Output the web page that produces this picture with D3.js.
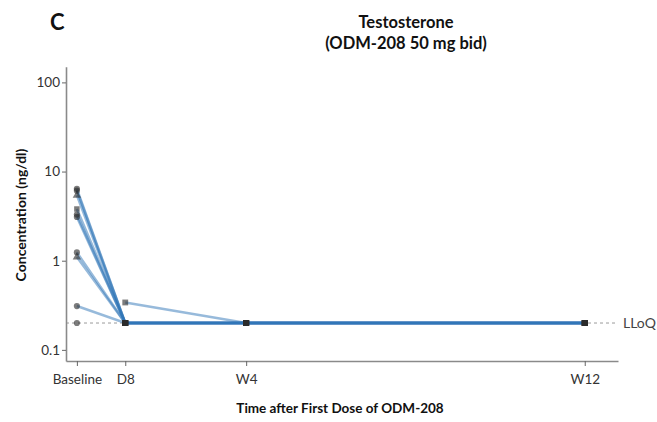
<!DOCTYPE html>
<html>
<head>
<meta charset="utf-8">
<script src="https://cdn.jsdelivr.net/npm/d3@7"></script>
<style>
  body { margin: 0; background: #fff; }
  text { font-family: Lato, "Open Sans", sans-serif; }
</style>
</head>
<body>
<div class="canvas"></div>
<script>
// visit labels and the study day each one sits at
var visits = ["Baseline", "D8", "W4", "W12"];
var visitDays = [0, 8, 28, 84];

// testosterone per subject (ng/dl), null = not measured
var subj01 = [6.4, 0.2, 0.2, 0.2];
var subj02 = [6.1, 0.2, 0.2, 0.2];
var subj03 = [5.4, 0.2, 0.2, 0.2];
var subj04 = [3.8, 0.2, 0.2, 0.2];
var subj05 = [3.3, 0.2, 0.2, 0.2];
var subj06 = [3.1, 0.2, 0.2, 0.2];
var subj07 = [1.24, 0.2, 0.2, 0.2];
var subj08 = [1.1, 0.2, 0.2, 0.2];
var subj09 = [0.31, 0.2, 0.2, 0.2];
var subj10 = [0.2, null, null, null];
var subj11 = [null, 0.34, 0.2, 0.2];
var subjects = [subj01, subj02, subj03, subj04, subj05, subj06, subj07, subj08, subj09, subj10, subj11];

var yTicks = [0.1, 1, 10, 100];
var lloq = 0.2;

// marker shape per subject (index into symbol list below)
var shapeIdx = [0, 0, 2, 1, 0, 0, 0, 2, 0, 0, 1];
var symbols = [d3.symbolCircle, d3.symbolSquare, d3.symbolTriangle];

var W = 657, H = 422;
const svg = d3.select(".canvas").append("svg")
            .attr("width", W)
            .attr("height", H);
svg.append("rect").attr("width", W).attr("height", H).attr("fill", "#fff");

var x = d3.scaleLinear().domain([-1.8, 89.5]).range([66, 618]);
var y = d3.scaleLog().domain([0.075, 150]).range([361, 66.7]);

// lloq dashed line
svg.append("line")
   .attr("x1", x(-1.8)).attr("x2", x(89.5))
   .attr("y1", y(lloq)).attr("y2", y(lloq))
   .attr("stroke", "#9a9a9a")
   .attr("stroke-width", 1)
   .attr("stroke-dasharray", "3,3");

svg.append("text")
   .text("LLoQ")
   .attr("x", 623).attr("y", y(lloq) + 5)
   .attr("font-size", 14)
   .attr("fill", "#444");

// axes
var xAxis = svg.append("g")
   .attr("transform", "translate(0," + 361 + ")")
   .call(d3.axisBottom(x).tickValues(visitDays).tickFormat(function(d, i) { return visits[i]; }).tickSize(5).tickSizeOuter(0));
var yAxis = svg.append("g")
   .attr("transform", "translate(" + 66 + ",0)")
   .call(d3.axisLeft(y).tickValues(yTicks).tickFormat(d3.format("~g")).tickSize(4).tickSizeOuter(0));

[xAxis, yAxis].forEach(function(g) {
  g.select(".domain").attr("stroke", "#8a8a8a").attr("stroke-width", 1.6);
  g.selectAll(".tick line").attr("stroke", "#666");
  g.selectAll(".tick text").attr("fill", "#333").attr("font-size", 13.5)
   .attr("font-family", "Lato, 'Open Sans', sans-serif");
});
xAxis.selectAll(".tick text").attr("dy", "1.1em");
yAxis.selectAll(".tick text").attr("dx", "1px");

// subject lines
var line = d3.line()
   .defined(function(d) { return d != null; })
   .x(function(d, i) { return x(visitDays[i]); })
   .y(function(d) { return y(d); });

svg.selectAll("path.subj")
   .data(subjects)
   .enter().append("path")
   .attr("class", "subj")
   .attr("d", line)
   .attr("fill", "none")
   .attr("stroke", "#2f75b8")
   .attr("stroke-opacity", 0.5)
   .attr("stroke-width", 2.5);

// markers
subjects.forEach(function(s, k) {
  var sym = d3.symbol().type(symbols[shapeIdx[k]]).size(30);
  svg.selectAll(null)
     .data(s.map(function(v, i) { return {v: v, i: i}; }).filter(function(d) { return d.v != null; }))
     .enter().append("path")
     .attr("d", function(d) { return d.i == 0 ? sym() : d3.symbol().type(d3.symbolSquare).size(34)(); })
     .attr("transform", function(d) { return "translate(" + x(visitDays[d.i]) + "," + y(d.v) + ")"; })
     .attr("fill", "#2b2b2b")
     .attr("fill-opacity", 0.62);
});

// titles
svg.append("text").text("C")
   .attr("x", 50).attr("y", 30)
   .attr("font-size", 22).attr("font-weight", "bold").attr("fill", "#111");
svg.append("text").text("Testosterone")
   .attr("x", 406).attr("y", 28).attr("text-anchor", "middle")
   .attr("font-size", 16.5).attr("font-weight", "bold").attr("fill", "#111");
svg.append("text").text("(ODM-208 50 mg bid)")
   .attr("x", 406).attr("y", 49).attr("text-anchor", "middle")
   .attr("font-size", 16.5).attr("font-weight", "bold").attr("fill", "#111");
svg.append("text").text("Time after First Dose of ODM-208")
   .attr("x", 340).attr("y", 413).attr("text-anchor", "middle")
   .attr("font-size", 13.5).attr("font-weight", "bold").attr("fill", "#111");
svg.append("text").text("Concentration (ng/dl)")
   .attr("transform", "translate(26,215) rotate(-90)")
   .attr("text-anchor", "middle")
   .attr("font-size", 14).attr("font-weight", "bold").attr("fill", "#111");
</script>
</body>
</html>
